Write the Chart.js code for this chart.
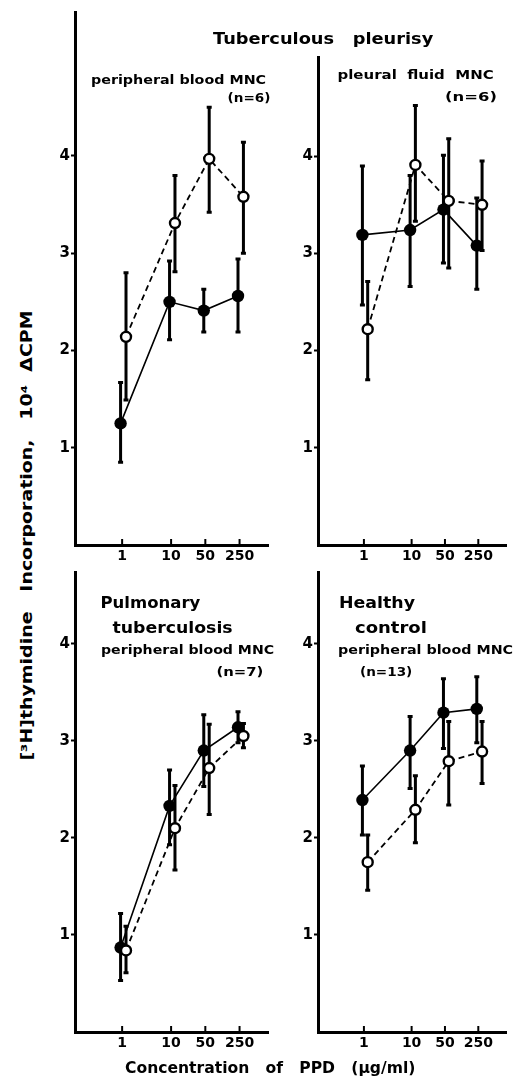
<!DOCTYPE html>
<html>
<head>
<meta charset="utf-8">
<script src="https://cdn.jsdelivr.net/npm/chart.js@4.4.1/dist/chart.umd.min.js"></script>
<style>
  body { margin: 0; background: #fff; }
  #wrap { position: relative; width: 514px; height: 1079px; overflow: hidden; background: #fff; }
  canvas { position: absolute; }
  .lbl { position: absolute; white-space: pre; line-height: 1; font-weight: bold;
         font-family: 'DejaVu Sans', 'Liberation Sans', sans-serif; color: #000; transform-origin: 50% 50%; }
</style>
</head>
<body>
<div id="wrap">
  <canvas id="cTL" width="236" height="570" style="left:40px;top:0px"></canvas>
  <canvas id="cTR" width="231" height="570" style="left:283px;top:0px"></canvas>
  <canvas id="cBL" width="236" height="497" style="left:40px;top:560px"></canvas>
  <canvas id="cBR" width="231" height="497" style="left:283px;top:560px"></canvas>
</div>
<script>
"use strict";

// PPD concentrations (ug/ml) and axis ticks
var doses = [1, 10, 50, 250];
var xTickLabels = ['1', '10', '50', '250'];
var yTicks = [1, 2, 3, 4];

// Tuberculous pleurisy - peripheral blood MNC (n=6)
var pbClosed   = [1.25, 2.50, 2.41, 2.56];
var pbClosedHi = [1.67, 2.92, 2.63, 2.94];
var pbClosedLo = [0.85, 2.11, 2.19, 2.19];
var pbOpen     = [2.14, 3.31, 3.97, 3.58];
var pbOpenHi   = [2.80, 3.80, 4.50, 4.14];
var pbOpenLo   = [1.49, 2.81, 3.42, 3.00];

// Tuberculous pleurisy - pleural fluid MNC (n=6)
var pfClosed   = [3.19, 3.24, 3.45, 3.08];
var pfClosedHi = [3.90, 3.80, 4.01, 3.57];
var pfClosedLo = [2.47, 2.66, 2.90, 2.63];
var pfOpen     = [2.22, 3.91, 3.54, 3.50];
var pfOpenHi   = [2.71, 4.52, 4.18, 3.95];
var pfOpenLo   = [1.70, 3.33, 2.85, 3.03];

// Pulmonary tuberculosis - peripheral blood MNC (n=7)
var ptClosed   = [0.87, 2.33, 2.90, 3.14];
var ptClosedHi = [1.22, 2.70, 3.27, 3.30];
var ptClosedLo = [0.53, 1.93, 2.53, 2.98];
var ptOpen     = [0.84, 2.10, 2.72, 3.05];
var ptOpenHi   = [1.09, 2.54, 3.17, 3.18];
var ptOpenLo   = [0.61, 1.67, 2.24, 2.93];

// Healthy control - peripheral blood MNC (n=13)
var hcClosed   = [2.39, 2.90, 3.29, 3.33];
var hcClosedHi = [2.74, 3.25, 3.64, 3.66];
var hcClosedLo = [2.03, 2.51, 2.92, 2.98];
var hcOpen     = [1.75, 2.29, 2.79, 2.89];
var hcOpenHi   = [2.03, 2.64, 3.20, 3.20];
var hcOpenLo   = [1.46, 1.95, 2.34, 2.56];

// small horizontal nudge so the two symbols don't sit on top of each other
var closedShift = 0.93;
var openShift = 1.2;

Chart.defaults.font.family = "'DejaVu Sans', 'Liberation Sans', sans-serif";
Chart.defaults.font.weight = 'bold';
Chart.defaults.color = '#000';

// vertical error bars with caps, drawn under the symbols
var errorBars = {
	id: 'errorBars',
	beforeDatasetsDraw: function (chart) {
		var ctx = chart.ctx, xs = chart.scales.x, ys = chart.scales.y;
		ctx.save();
		ctx.strokeStyle = '#000';
		ctx.lineWidth = 3;
		chart.data.datasets.forEach(function (ds) {
			ds.data.forEach(function (p, i) {
				var x = xs.getPixelForValue(p.x);
				var yHi = ys.getPixelForValue(ds.hi[i]);
				var yLo = ys.getPixelForValue(ds.lo[i]);
				ctx.beginPath();
				ctx.moveTo(x, yHi); ctx.lineTo(x, yLo);
				ctx.moveTo(x - 2.5, yHi); ctx.lineTo(x + 2.5, yHi);
				ctx.moveTo(x - 2.5, yLo); ctx.lineTo(x + 2.5, yLo);
				ctx.stroke();
			});
		});
		ctx.restore();
	}
};

// tick marks on the x axis point inward
var innerTicks = {
	id: 'innerTicks',
	afterDraw: function (chart) {
		var ctx = chart.ctx, xs = chart.scales.x, b = chart.chartArea.bottom;
		ctx.save();
		ctx.strokeStyle = '#000';
		ctx.lineWidth = 2;
		xs.ticks.forEach(function (t) {
			var x = xs.getPixelForValue(t.value);
			ctx.beginPath();
			ctx.moveTo(x, b);
			ctx.lineTo(x, b - 6);
			ctx.stroke();
		});
		ctx.restore();
	}
};

function points(values, shift) {
	return values.map(function (v, i) { return { x: doses[i] * shift, y: v }; });
}

function MakePanel(canvasId, yMax, padTop, padRight, closed, closedHi, closedLo, open, openHi, openLo) {
	return new Chart(document.getElementById(canvasId), {
		type: 'line',
		data: {
			datasets: [{
				data: points(open, openShift),
				hi: openHi, lo: openLo,
				borderColor: '#000',
				borderWidth: 1.8,
				borderDash: [6, 4],
				pointRadius: 5,
				pointBorderWidth: 2.4,
				pointBackgroundColor: '#fff',
				pointBorderColor: '#000',
				tension: 0
			}, {
				data: points(closed, closedShift),
				hi: closedHi, lo: closedLo,
				borderColor: '#000',
				borderWidth: 1.6,
				pointRadius: 6.2,
				pointBorderWidth: 0,
				pointBackgroundColor: '#000',
				pointBorderColor: '#000',
				tension: 0
			}]
		},
		options: {
			responsive: false,
			animation: false,
			devicePixelRatio: 1,
			layout: { padding: { top: padTop, right: padRight, left: 0, bottom: 0 } },
			plugins: { legend: { display: false }, tooltip: { enabled: false } },
			scales: {
				x: {
					type: 'logarithmic',
					min: 0.109,
					max: 980,
					afterBuildTicks: function (scale) {
						scale.ticks = doses.map(function (d) { return { value: d }; });
					},
					afterFit: function (scale) { scale.height = 25; },
					ticks: {
						autoSkip: false,
						maxRotation: 0,
						padding: 3,
						font: { size: 14, weight: 'bold' },
						callback: function (value, index) { return xTickLabels[index]; }
					},
					grid: { drawOnChartArea: false, drawTicks: false },
					border: { display: true, color: '#000', width: 3 }
				},
				y: {
					type: 'linear',
					min: 0,
					max: yMax,
					afterBuildTicks: function (scale) {
						scale.ticks = yTicks.map(function (v) { return { value: v }; });
					},
					afterFit: function (scale) { scale.width = 35; },
					ticks: {
						padding: 1,
						font: { size: 15, weight: 'bold' },
						callback: function (value) { return String(value); }
					},
					grid: { drawOnChartArea: false, drawTicks: true, tickLength: 4, tickWidth: 2, tickColor: '#000' },
					border: { display: true, color: '#000', width: 3 }
				}
			}
		},
		plugins: [errorBars, innerTicks]
	});
}

MakePanel('cTL', 5.48, 12, 7, pbClosed, pbClosedHi, pbClosedLo, pbOpen, pbOpenHi, pbOpenLo);
MakePanel('cTR', 5.02, 57, 2, pfClosed, pfClosedHi, pfClosedLo, pfOpen, pfOpenHi, pfOpenLo);
MakePanel('cBL', 4.74, 12, 7, ptClosed, ptClosedHi, ptClosedLo, ptOpen, ptOpenHi, ptOpenLo);
MakePanel('cBR', 4.74, 12, 2, hcClosed, hcClosedHi, hcClosedLo, hcOpen, hcOpenHi, hcOpenLo);

// text labels, stretched to the width they take in the figure
var wrap = document.getElementById('wrap');
function AddText(str, cx, cy, size, width, rotate) {
	var d = document.createElement('div');
	d.className = 'lbl';
	d.textContent = str;
	d.style.fontSize = size + 'px';
	wrap.appendChild(d);
	var w = d.offsetWidth, h = d.offsetHeight;
	var k = width ? width / w : 1;
	d.style.left = (cx - w / 2) + 'px';
	d.style.top = (cy - h / 2) + 'px';
	d.style.transform = (rotate ? 'rotate(-90deg) ' : '') + 'scaleX(' + k + ')';
}

AddText('Tuberculous   pleurisy', 323, 39, 16, 220);
AddText('peripheral blood MNC', 178, 80, 12, 175);
AddText('(n=6)', 249, 98, 12, 43);
AddText('pleural  fluid  MNC', 415, 75, 12, 156);
AddText('(n=6)', 471, 97, 12, 52);
AddText('Pulmonary', 150, 603, 16, 100);
AddText('tuberculosis', 172, 628, 16, 120);
AddText('peripheral blood MNC', 187, 650, 12, 173);
AddText('(n=7)', 240, 672, 12, 47);
AddText('Healthy', 377, 603, 16, 76);
AddText('control', 391, 628, 16, 72);
AddText('peripheral blood MNC', 425, 650, 12, 175);
AddText('(n=13)', 386, 672, 12, 52);
AddText('Concentration   of   PPD   (\u00b5g/ml)', 270, 1068, 16, 290);
AddText('[\u00b3H]thymidine   Incorporation,   10\u2074  \u0394CPM', 27, 535, 15, 450, true);
</script>
</body>
</html>
